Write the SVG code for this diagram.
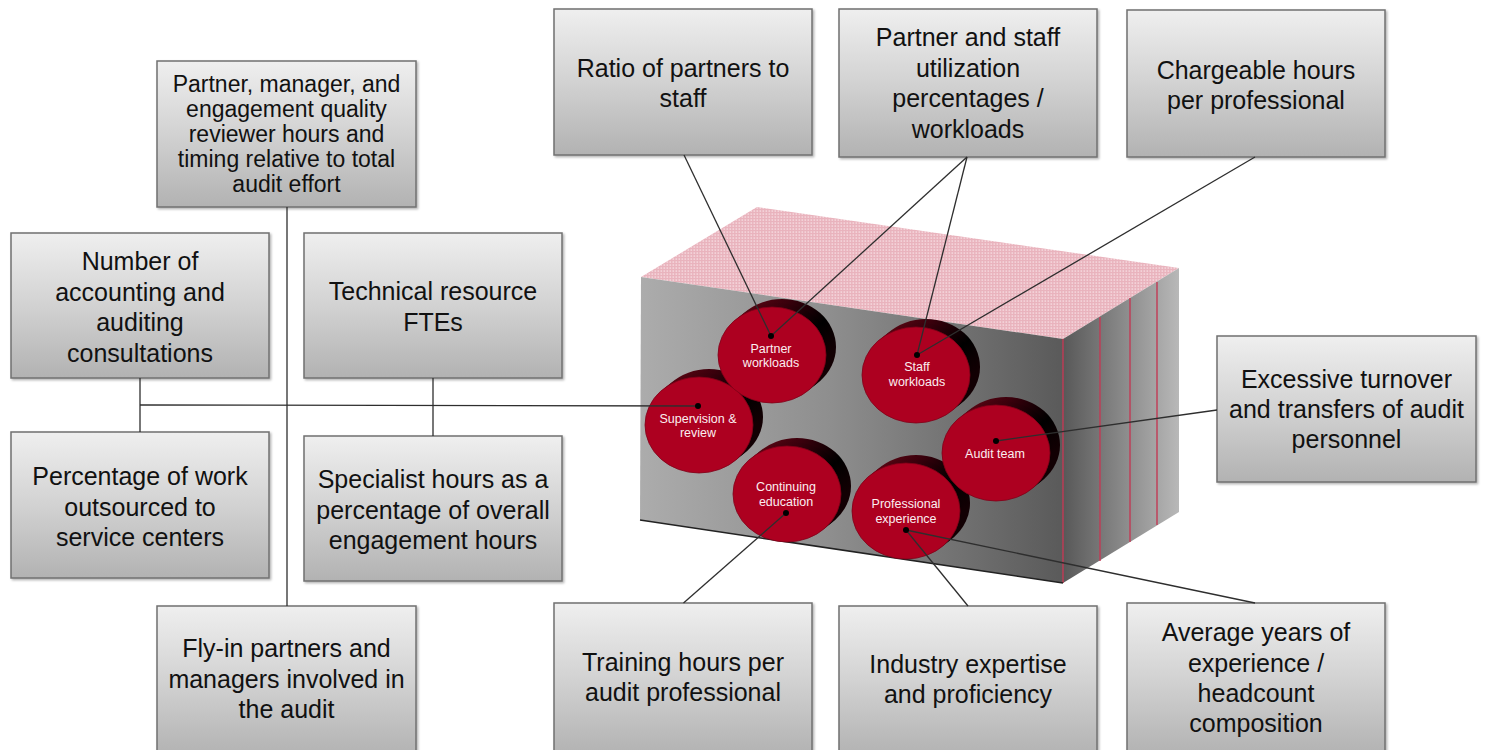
<svg xmlns="http://www.w3.org/2000/svg" width="1485" height="750" viewBox="0 0 1485 750">
<defs>
<style>
.box rect{fill:url(#boxG);stroke:#707070;stroke-width:1.5;filter:url(#sh)}
.box text{font-family:"Liberation Sans",Arial,sans-serif;font-size:25px;fill:#111;text-anchor:middle}
.box.small text{font-size:23px}
.con line{stroke:#2e2e2e;stroke-width:1.3;fill:none}
.con circle{fill:#000}
.side{fill:url(#sideG)}
.face{fill:#ad0020;stroke:#800018;stroke-width:0.8}
.disk text{font-family:"Liberation Sans",Arial,sans-serif;font-size:12.5px;fill:#fbeef0;text-anchor:middle}
.rl{stroke:#c23a55;stroke-width:1.4}
</style>
<linearGradient id="boxG" x1="0" y1="0" x2="0" y2="1">
<stop offset="0" stop-color="#efefef"/>
<stop offset="0.5" stop-color="#d2d2d2"/>
<stop offset="1" stop-color="#b2b2b2"/>
</linearGradient>
<linearGradient id="frontG" x1="640" y1="0" x2="1063" y2="0" gradientUnits="userSpaceOnUse">
<stop offset="0" stop-color="#acacac"/>
<stop offset="0.45" stop-color="#8e8e8e"/>
<stop offset="1" stop-color="#5a5a5a"/>
</linearGradient>
<linearGradient id="rightG" x1="1063" y1="0" x2="1179" y2="0" gradientUnits="userSpaceOnUse">
<stop offset="0" stop-color="#585858"/>
<stop offset="1" stop-color="#b8b8b8"/>
</linearGradient>
<linearGradient id="sideG" x1="0" y1="0" x2="1" y2="0.5">
<stop offset="0" stop-color="#6a0816"/>
<stop offset="0.45" stop-color="#3a000c"/>
<stop offset="0.8" stop-color="#000"/>
<stop offset="1" stop-color="#120003"/>
</linearGradient>
<pattern id="hatch" width="3" height="3" patternUnits="userSpaceOnUse">
<rect width="3" height="3" fill="#e9b3bd"/>
<rect x="0.5" y="0.5" width="1.6" height="1.1" fill="#fae6ea"/>
</pattern>
<filter id="sh" x="-5%" y="-5%" width="110%" height="110%">
<feDropShadow dx="1.5" dy="1.5" stdDeviation="1" flood-opacity="0.3"/>
</filter>
</defs>
<rect width="1485" height="750" fill="#fff"/>

<g id="cube">
<polygon points="641,277 757,207 1179,268 1063,339" fill="url(#hatch)"/>
<polygon points="641,277 1063,339 1063,583 640,520" fill="url(#frontG)"/>
<polygon points="1063,339 1179,268 1179,512 1063,583" fill="url(#rightG)"/>
<line class="rl" x1="1063" y1="339" x2="1063" y2="583"/>
<line class="rl" x1="1100" y1="317" x2="1100" y2="561"/>
<line class="rl" x1="1130" y1="298" x2="1130" y2="542"/>
<line class="rl" x1="1157" y1="282" x2="1157" y2="525"/>
<line x1="640" y1="520" x2="1063" y2="583" stroke="#222" stroke-width="1.6"/>
</g>

<g id="disk-continuing" class="disk">
<ellipse class="side" cx="797" cy="486" rx="54" ry="48"/>
<ellipse class="side" cx="792" cy="490" rx="54" ry="48"/>
<ellipse class="face" cx="787" cy="494" rx="54" ry="48"/>
<text x="786" y="491">Continuing</text>
<text x="786" y="505.5">education</text>
</g>
<g id="disk-professional" class="disk">
<ellipse class="side" cx="916" cy="503" rx="54" ry="48"/>
<ellipse class="side" cx="911" cy="507" rx="54" ry="48"/>
<ellipse class="face" cx="906" cy="511" rx="54" ry="48"/>
<text x="906" y="508">Professional</text>
<text x="906" y="523">experience</text>
</g>
<g id="disk-supervision" class="disk">
<ellipse class="side" cx="709" cy="417" rx="54" ry="48"/>
<ellipse class="side" cx="704" cy="421" rx="54" ry="48"/>
<ellipse class="face" cx="699" cy="425" rx="54" ry="48"/>
<text x="698" y="422.5">Supervision &amp;</text>
<text x="698" y="437">review</text>
</g>
<g id="disk-partner" class="disk">
<ellipse class="side" cx="782" cy="347" rx="54" ry="48"/>
<ellipse class="side" cx="777" cy="351" rx="54" ry="48"/>
<ellipse class="face" cx="772" cy="355" rx="54" ry="48"/>
<text x="771" y="352.5">Partner</text>
<text x="771" y="367">workloads</text>
</g>
<g id="disk-staff" class="disk">
<ellipse class="side" cx="926" cy="367" rx="54" ry="48"/>
<ellipse class="side" cx="921" cy="371" rx="54" ry="48"/>
<ellipse class="face" cx="916" cy="375" rx="54" ry="48"/>
<text x="917" y="370.5">Staff</text>
<text x="917" y="386">workloads</text>
</g>
<g id="disk-audit" class="disk">
<ellipse class="side" cx="1006" cy="445" rx="54" ry="48"/>
<ellipse class="side" cx="1001" cy="449" rx="54" ry="48"/>
<ellipse class="face" cx="996" cy="453" rx="54" ry="48"/>
<text x="995" y="457.5">Audit team</text>
</g>

<g id="box-partner-hours" class="box small">
<rect x="157" y="61" width="259" height="146"/>
<text x="286.5" y="91.7">Partner, manager, and</text>
<text x="286.5" y="116.7">engagement quality</text>
<text x="286.5" y="141.7">reviewer hours and</text>
<text x="286.5" y="166.7">timing relative to total</text>
<text x="286.5" y="191.7">audit effort</text>
</g>
<g id="box-consultations" class="box">
<rect x="11" y="233" width="258" height="145"/>
<text x="140" y="270">Number of</text>
<text x="140" y="300.5">accounting and</text>
<text x="140" y="331">auditing</text>
<text x="140" y="361.5">consultations</text>
</g>
<g id="box-technical" class="box">
<rect x="304" y="233" width="258" height="145"/>
<text x="433" y="300">Technical resource</text>
<text x="433" y="330.5">FTEs</text>
</g>
<g id="box-outsourced" class="box">
<rect x="11" y="432" width="258" height="146"/>
<text x="140" y="485">Percentage of work</text>
<text x="140" y="515.5">outsourced to</text>
<text x="140" y="546">service centers</text>
</g>
<g id="box-specialist" class="box">
<rect x="304" y="436" width="258" height="145"/>
<text x="433" y="488.3">Specialist hours as a</text>
<text x="433" y="518.6">percentage of overall</text>
<text x="433" y="549">engagement hours</text>
</g>
<g id="box-flyin" class="box">
<rect x="157" y="606" width="259" height="150"/>
<text x="286.5" y="657.3">Fly-in partners and</text>
<text x="286.5" y="688">managers involved in</text>
<text x="286.5" y="718.3">the audit</text>
</g>
<g id="box-ratio" class="box">
<rect x="554" y="9" width="258" height="146"/>
<text x="683" y="77.3">Ratio of partners to</text>
<text x="683" y="107.3">staff</text>
</g>
<g id="box-utilization" class="box">
<rect x="839" y="9" width="258" height="148"/>
<text x="968" y="45.7">Partner and staff</text>
<text x="968" y="76.5">utilization</text>
<text x="968" y="107">percentages /</text>
<text x="968" y="137.5">workloads</text>
</g>
<g id="box-chargeable" class="box">
<rect x="1127" y="10" width="258" height="147"/>
<text x="1256" y="79.3">Chargeable hours</text>
<text x="1256" y="109.3">per professional</text>
</g>
<g id="box-turnover" class="box">
<rect x="1217" y="336" width="259" height="146"/>
<text x="1346.5" y="388.3">Excessive turnover</text>
<text x="1346.5" y="418.3">and transfers of audit</text>
<text x="1346.5" y="448.3">personnel</text>
</g>
<g id="box-training" class="box">
<rect x="554" y="603" width="258" height="152"/>
<text x="683" y="671">Training hours per</text>
<text x="683" y="701">audit professional</text>
</g>
<g id="box-industry" class="box">
<rect x="839" y="606" width="258" height="150"/>
<text x="968" y="672.7">Industry expertise</text>
<text x="968" y="703">and proficiency</text>
</g>
<g id="box-average" class="box">
<rect x="1127" y="603" width="258" height="152"/>
<text x="1256" y="641">Average years of</text>
<text x="1256" y="671.5">experience /</text>
<text x="1256" y="701.7">headcount</text>
<text x="1256" y="731.7">composition</text>
</g>

<g id="connectors" class="con">
<line x1="287" y1="207" x2="287" y2="606"/>
<line x1="140" y1="378" x2="140" y2="432"/>
<line x1="433" y1="378" x2="433" y2="436"/>
<line x1="140" y1="405" x2="698" y2="406"/>
<line x1="684" y1="155" x2="771" y2="336"/>
<line x1="967" y1="157" x2="771" y2="336"/>
<line x1="967" y1="157" x2="917" y2="355"/>
<line x1="1255" y1="157" x2="917" y2="355"/>
<line x1="1217" y1="410" x2="996" y2="441"/>
<line x1="683.5" y1="603" x2="786" y2="513"/>
<line x1="968" y1="606" x2="906" y2="530"/>
<line x1="1255" y1="603" x2="906" y2="530"/>
<circle cx="698" cy="406" r="3"/>
<circle cx="771" cy="336" r="3"/>
<circle cx="917" cy="355" r="3"/>
<circle cx="996" cy="441" r="3"/>
<circle cx="786" cy="513" r="3"/>
<circle cx="906" cy="530" r="3"/>
</g>
</svg>
